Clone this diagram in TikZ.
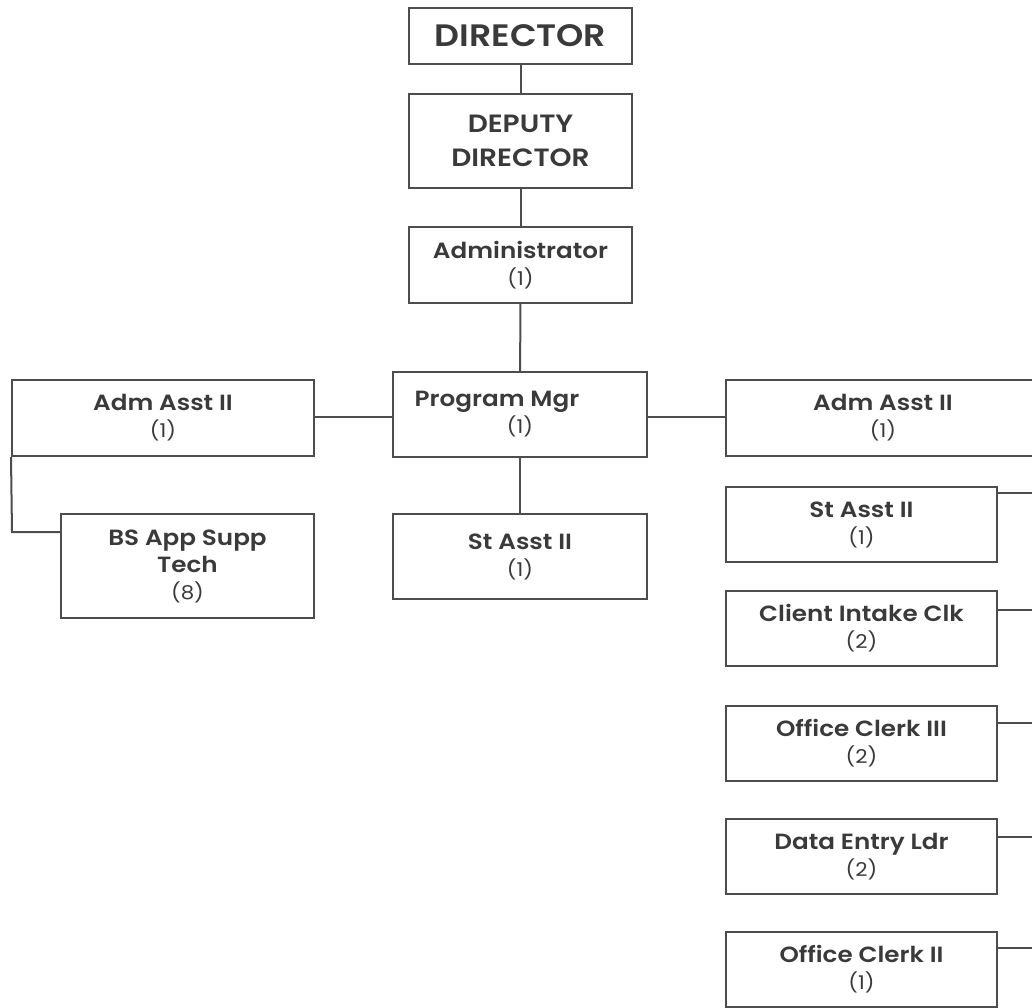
\documentclass[tikz,border=0pt]{standalone}
\usepackage{fontspec}
\setmainfont{Poppins}[FakeStretch=1.12,BoldFont={Poppins SemiBold}]
\begin{document}
\definecolor{ink}{HTML}{3A3A3A}
\definecolor{rule}{HTML}{4D4D4D}
\begin{tikzpicture}[x=1pt,y=-1pt,
  box/.style={draw=rule,line width=2pt,inner sep=0pt,align=center,text=ink,
    font=\fontsize{22}{27}\selectfont\bfseries},
  link/.style={draw=rule,line width=2pt}]
\newcommand\cnt[1]{\fontsize{19}{28}\selectfont\mdseries #1}
\useasboundingbox (0,0) rectangle (1032,1007);
\fill[white] (0,0) rectangle (1032,1007);

% central chain
\node[box,minimum width=223pt,minimum height=56pt,font=\fontsize{31}{36}\selectfont\bfseries]
  (dir) at (520.5,36) {DIRECTOR};
\node[box,minimum width=223pt,minimum height=94pt,font=\fontsize{25}{34}\selectfont\bfseries]
  (dep) at (520.5,141) {DEPUTY\\DIRECTOR};
\node[box,minimum width=223pt,minimum height=76pt] (adm) at (520.5,265)
  {Administrator\\\cnt{(1)}};
\node[box,minimum width=254pt,minimum height=85pt] (pm) at (520,414.5)
  {\hspace*{-46pt}Program Mgr\\\cnt{(1)}};
\node[box,minimum width=254pt,minimum height=85pt] (sa) at (520,556.5)
  {St Asst II\\\cnt{(1)}};

% left branch
\node[box,minimum width=302pt,minimum height=76pt] (aal) at (163,418)
  {Adm Asst II\\\cnt{(1)}};
\node[box,minimum width=253pt,minimum height=104pt] (bs) at (187.5,566)
  {BS App Supp\\Tech\\\cnt{(8)}};

% right branch
\node[box,minimum width=314pt,minimum height=76pt] (aar) at (883,418)
  {Adm Asst II\\\cnt{(1)}};
\node[box,minimum width=271pt,minimum height=75pt] (r1) at (861.5,524.5)
  {St Asst II\\\cnt{(1)}};
\node[box,minimum width=271pt,minimum height=75pt] (r2) at (861.5,628.5)
  {Client Intake Clk\\\cnt{(2)}};
\node[box,minimum width=271pt,minimum height=75pt] (r3) at (861.5,743)
  {Office Clerk III\\\cnt{(2)}};
\node[box,minimum width=271pt,minimum height=75pt] (r4) at (861.5,856.5)
  {Data Entry Ldr\\\cnt{(2)}};
\node[box,minimum width=271pt,minimum height=75pt] (r5) at (861.5,969)
  {Office Clerk II\\\cnt{(1)}};

% free ends at the right margin
\coordinate (e1) at (1032,493);
\coordinate (e2) at (1032,610);
\coordinate (e3) at (1032,723);
\coordinate (e4) at (1032,837);
\coordinate (e5) at (1032,948);
\coordinate (bend) at (12,532);
\coordinate (mid) at (520,417);

% connectors
\draw[link] (dir) -- (dep);
\draw[link] (dep) -- (adm);
\draw[link] (adm) -- (pm);
\draw[link] (pm) -- (sa);
\draw[link] (pm.west |- mid) -- (aal.east |- mid);
\draw[link] (pm.east |- mid) -- (aar.west |- mid);
\draw[link] (aal.south west) -- (bend) -- (bs.west |- bend);
\draw[link] (r1.east |- e1) -- (e1);
\draw[link] (r2.east |- e2) -- (e2);
\draw[link] (r3.east |- e3) -- (e3);
\draw[link] (r4.east |- e4) -- (e4);
\draw[link] (r5.east |- e5) -- (e5);
\end{tikzpicture}
\end{document}
